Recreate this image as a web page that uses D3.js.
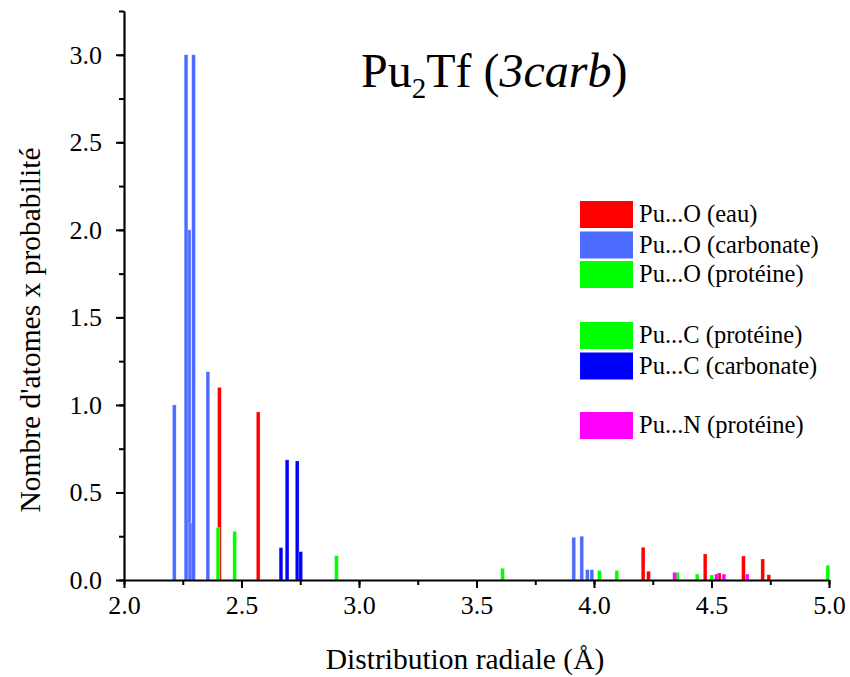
<!DOCTYPE html>
<html><head><meta charset="utf-8">
<script src="https://cdn.jsdelivr.net/npm/d3@7"></script>
<style>body{margin:0;background:#fff}svg{display:block}text{font-family:"Liberation Serif","Times New Roman",serif;fill:#000}</style>
</head><body>
<script>
// ---- data ----
const seriesNames = ["Pu...O (eau)", "Pu...O (carbonate)", "Pu...O (protéine)", "Pu...C (protéine)", "Pu...C (carbonate)", "Pu...N (protéine)"];
const seriesColors = ["#ff0000", "#4d6bff", "#00ff00", "#00ff00", "#0000ff", "#ff00ff"];
const oEauR = [2.406, 2.571, 4.209, 4.232, 4.473, 4.533, 4.636, 4.718, 4.744];
const oEauV = [1.10, 0.96, 0.187, 0.05, 0.149, 0.04, 0.137, 0.12, 0.03];
const oCarbR = [2.214, 2.277, 2.264, 2.284, 2.296, 2.357, 3.914, 3.948, 3.972, 3.991];
const oCarbV = [1.00, 2.00, 3.00, 0.326, 3.00, 1.19, 0.244, 0.25, 0.059, 0.059];
const oProtR = [2.400, 2.471, 4.097, 4.439, 4.501];
const oProtV = [0.30, 0.278, 0.055, 0.034, 0.029];
const cProtR = [2.904, 3.611, 4.023, 4.355, 4.995];
const cProtV = [0.139, 0.067, 0.055, 0.044, 0.084];
const cCarbR = [2.668, 2.694, 2.737, 2.752];
const cCarbV = [0.185, 0.686, 0.68, 0.162];
const nProtR = [4.343, 4.521, 4.553, 4.652];
const nProtV = [0.044, 0.034, 0.034, 0.034];
const xTicks = [2.0, 2.5, 3.0, 3.5, 4.0, 4.5, 5.0];
const yTicks = [0.0, 0.5, 1.0, 1.5, 2.0, 2.5, 3.0];

const seriesR = [oEauR, oCarbR, oProtR, cProtR, cCarbR, nProtR];
const seriesV = [oEauV, oCarbV, oProtV, cProtV, cCarbV, nProtV];

const W = 850, H = 677;
const svg = d3.select("body").append("svg").attr("width", W).attr("height", H);
const x = d3.scaleLinear().domain([2.0, 5.0]).range([124, 829]);
const y = d3.scaleLinear().domain([0, 3.25]).range([580, 11]);
const bw = 0.016;

// bars
[0, 1, 2, 3, 4, 5].forEach(i => {
  const data = seriesR[i].map((r, j) => ({r, v: seriesV[i][j]}));
  svg.append("g").selectAll("rect").data(data).join("rect")
    .attr("x", d => x(d.r - bw / 2))
    .attr("width", d => x(d.r + bw / 2) - x(d.r - bw / 2))
    .attr("y", d => y(d.v))
    .attr("height", d => y(0) - y(d.v))
    .attr("fill", seriesColors[i])
    .attr("stroke", "#ffffff").attr("stroke-opacity", 0.45).attr("stroke-width", 0.6);
});

// axes
const fs = "26px";
const xMinor = d3.range(2.0, 5.001, 0.25);
const yMinor = d3.range(0, 3.2501, 0.25);
const gx = svg.append("g").attr("transform", `translate(0,${y(0)})`);
gx.call(d3.axisBottom(x).tickValues(xMinor).tickSize(5).tickFormat("").tickSizeOuter(0));
gx.selectAll(".tick line").attr("stroke-width", 2);
const gx2 = svg.append("g").attr("transform", `translate(0,${y(0)})`);
gx2.call(d3.axisBottom(x).tickValues(xTicks).tickSize(8).tickPadding(8).tickFormat(d3.format(".1f")).tickSizeOuter(0));
gx2.select(".domain").attr("stroke-width", 2.2);
gx2.selectAll(".tick line").attr("stroke-width", 2);
gx2.selectAll("text").style("font-size", fs).attr("font-family", "Liberation Serif");

const gy = svg.append("g").attr("transform", `translate(${x(2.0)},0)`);
gy.call(d3.axisLeft(y).tickValues(yMinor).tickSize(5).tickFormat("").tickSizeOuter(0));
gy.selectAll(".tick line").attr("stroke-width", 2);
const gy2 = svg.append("g").attr("transform", `translate(${x(2.0)},0)`);
gy2.call(d3.axisLeft(y).tickValues(yTicks).tickSize(8).tickPadding(14).tickFormat(d3.format(".1f")).tickSizeOuter(0));
gy2.select(".domain").attr("stroke-width", 2.2);
gy2.selectAll(".tick line").attr("stroke-width", 2);
gy2.selectAll("text").style("font-size", fs).attr("font-family", "Liberation Serif");
svg.selectAll(".domain").attr("stroke", "#000");

// axis titles
svg.append("text").attr("x", 465).attr("y", 669).attr("text-anchor", "middle")
  .style("font-size", "29.5px").text("Distribution radiale (Å)");
svg.append("text").attr("transform", "translate(40,330) rotate(-90)").attr("text-anchor", "middle")
  .style("font-size", "29.5px").text("Nombre d'atomes x probabilité");

// title
const t = svg.append("text").attr("x", 361).attr("y", 87).style("font-size", "48px");
t.append("tspan").text("Pu");
t.append("tspan").attr("dy", 11).style("font-size", "29px").text("2");
t.append("tspan").attr("dy", -11).text("Tf (");
t.append("tspan").style("font-style", "italic").text("3carb");
t.append("tspan").text(")");

// legend
const legTops = [201, 231.5, 261, 322, 352.5, 412];
const lg = svg.append("g");
seriesNames.forEach((n, i) => {
  lg.append("rect").attr("x", 580).attr("y", legTops[i]).attr("width", 53).attr("height", 27)
    .attr("fill", seriesColors[i]);
  lg.append("text").attr("x", 639).attr("y", legTops[i] + 21).style("font-size", "24.5px").text(n);
});
</script>
</body></html>
